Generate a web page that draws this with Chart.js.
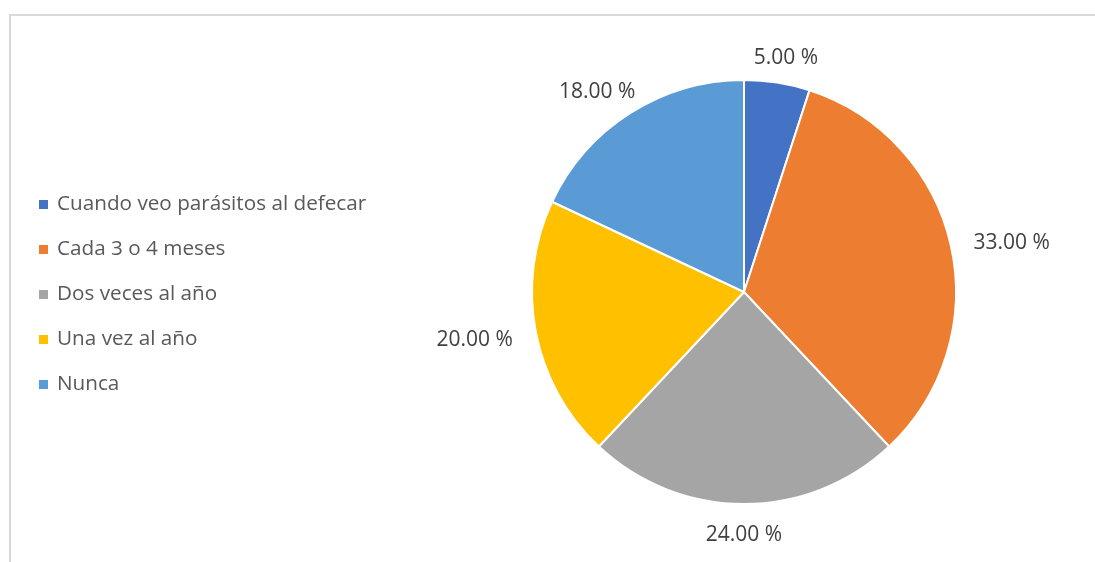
<!DOCTYPE html>
<html>
<head>
<meta charset="utf-8">
<script src="https://cdn.jsdelivr.net/npm/chart.js@4"></script>
<style>
  html, body { margin: 0; padding: 0; background: #fff; overflow: hidden; }
  body { width: 1095px; height: 562px; position: relative; font-family: 'Open Sans', sans-serif; }
  .rule { position: absolute; background: #d9d9d9; }
  #rule-top { left: 9px; top: 14px; width: 1086px; height: 2px; }
  #rule-left { left: 9px; top: 14px; width: 2px; height: 548px; }
  #wrap { position: absolute; left: 0; top: 0; width: 1095px; height: 562px; }
  #legend { position: absolute; left: 39px; top: 188px; margin: 0; padding: 0; list-style: none; }
  #legend li { height: 45px; line-height: 28px; font-size: 20.7px; color: #595959; white-space: nowrap; }
  #legend span.box { display: inline-block; width: 9px; height: 9px; margin-right: 9px; vertical-align: 1px; }
</style>
</head>
<body>
<div class="rule" id="rule-top"></div>
<div class="rule" id="rule-left"></div>
<div id="wrap"><canvas id="c"></canvas></div>
<ul id="legend"></ul>
<script>
  var categories = ['Cuando veo parásitos al defecar', 'Cada 3 o 4 meses', 'Dos veces al año', 'Una vez al año', 'Nunca'];
  var values = [5, 33, 24, 20, 18];
  var colors = ['#4472C4', '#ED7D31', '#A5A5A5', '#FFC000', '#5B9BD5'];

  // legend as plain html list
  var legend = document.getElementById('legend');
  categories.forEach(function(name, i) {
    var li = document.createElement('li');
    var box = document.createElement('span');
    box.className = 'box';
    box.style.background = colors[i];
    li.appendChild(box);
    li.appendChild(document.createTextNode(name));
    legend.appendChild(li);
  });

  // percent labels just outside each slice
  var outsideLabels = {
    id: 'outsideLabels',
    afterDatasetsDraw: function(chart) {
      var ctx = chart.ctx;
      var meta = chart.getDatasetMeta(0);
      ctx.save();
      ctx.font = '21px "Open Sans", sans-serif';
      ctx.fillStyle = '#404040';
      ctx.textAlign = 'center';
      ctx.textBaseline = 'middle';
      meta.data.forEach(function(arc, i) {
        var p = arc.getProps(['x', 'y', 'startAngle', 'endAngle', 'outerRadius'], true);
        var mid = (p.startAngle + p.endAngle) / 2;
        var dx = Math.cos(mid), dy = Math.sin(mid);
        var text = values[i].toFixed(2) + ' %';
        var w = ctx.measureText(text).width;
        var r = p.outerRadius + 8;
        var x = p.x + dx * (r + w / 2 + 16);
        var y = p.y + dy * (r + 20) + 3;
        ctx.fillText(text, x, y);
      });
      ctx.restore();
    }
  };

  new Chart(document.getElementById('c'), {
    type: 'pie',
    data: {
      labels: categories,
      datasets: [{
        data: values,
        backgroundColor: colors,
        borderColor: '#ffffff',
        borderWidth: 2
      }]
    },
    options: {
      responsive: true,
      maintainAspectRatio: false,
      animation: false,
      radius: 212,
      layout: { padding: { left: 524, right: 131, top: 72, bottom: 50 } },
      plugins: {
        legend: { display: false },
        tooltip: { enabled: false }
      }
    },
    plugins: [outsideLabels]
  });
</script>
</body>
</html>
